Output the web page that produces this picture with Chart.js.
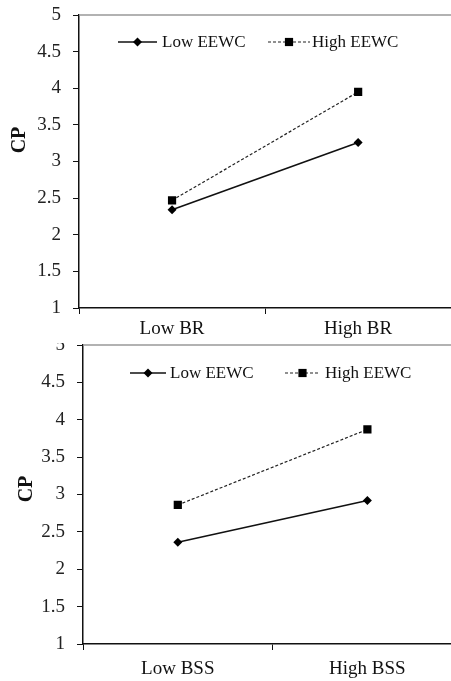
<!DOCTYPE html>
<html>
<head>
<meta charset="utf-8">
<script src="https://cdn.jsdelivr.net/npm/chart.js@4/dist/chart.umd.min.js"></script>
<style>
	html, body { margin: 0; padding: 0; background: #fff; overflow: hidden; }
	#top { position: absolute; left: 0; top: 0; width: 451px; height: 343px; overflow: hidden; }
	#topInner { position: absolute; left: 0; top: 0; width: 457px; height: 343px; }
	#bottom { position: absolute; left: 0; top: 343px; width: 451px; height: 338px; overflow: hidden; }
	#bottomInner { position: absolute; left: 0; top: -10px; width: 468px; height: 348px; }
</style>
</head>
<body>
<div id="top"><div id="topInner"><canvas id="brChart"></canvas></div></div>
<div id="bottom"><div id="bottomInner"><canvas id="bssChart"></canvas></div></div>
<script>
// data
var seriesNames = ["Low EEWC", "High EEWC"];
var brLabels = ["Low BR", "High BR"];
var lowEewcBR = [2.34, 3.26];
var highEewcBR = [2.47, 3.95];
var bssLabels = ["Low BSS", "High BSS"];
var lowEewcBSS = [2.36, 2.92];
var highEewcBSS = [2.86, 3.87];
var yTicks = [1, 5, 0.5]; // min, max, step

Chart.defaults.font.family = "'Liberation Serif', 'Times New Roman', serif";
Chart.defaults.color = "#111";
Chart.defaults.animation = false;

// legend + axis title drawn inside the plot, like the original figure
var insidePlugin = {
	id: "inside",
	beforeDatasetsDraw: function (chart) {
		var ctx = chart.ctx;
		var a = chart.chartArea;
		ctx.save();
		ctx.strokeStyle = "#999";
		ctx.lineWidth = 1.5;
		ctx.beginPath();
		ctx.moveTo(a.left, a.top);
		ctx.lineTo(a.right, a.top);
		ctx.stroke();
		ctx.restore();
	},
	afterDatasetsDraw: function (chart, args, opts) {
		var ctx = chart.ctx;
		ctx.save();
		// axis title
		ctx.translate(opts.titleX, opts.titleY);
		ctx.rotate(-Math.PI / 2);
		ctx.font = "bold 20px 'Liberation Serif'";
		ctx.fillStyle = "#111";
		ctx.textAlign = "center";
		ctx.textBaseline = "middle";
		ctx.fillText("CP", 0, 0);
		ctx.restore();

		// legend
		opts.items.forEach(function (it, i) {
			var ds = chart.data.datasets[i];
			ctx.save();
			ctx.strokeStyle = ds.borderColor;
			ctx.lineWidth = ds.borderWidth;
			ctx.setLineDash(ds.borderDash || []);
			ctx.beginPath();
			ctx.moveTo(it.x1, opts.y);
			ctx.lineTo(it.x2, opts.y);
			ctx.stroke();
			ctx.setLineDash([]);
			ctx.fillStyle = ds.pointBackgroundColor;
			Chart.helpers.drawPoint(ctx, {
				pointStyle: ds.pointStyle,
				radius: ds.pointRadius,
				borderWidth: 0,
				rotation: 0
			}, (it.x1 + it.x2) / 2, opts.y);
			ctx.fillStyle = "#111";
			ctx.font = "17px 'Liberation Serif'";
			ctx.textBaseline = "middle";
			ctx.fillText(ds.label, it.tx, opts.y + 1);
			ctx.restore();
		});
	}
};

function makeDatasets(low, high) {
	return [
		{
			label: seriesNames[0],
			data: low,
			borderColor: "#111",
			borderWidth: 1.6,
			pointStyle: "rectRot",
			pointRadius: 4.5,
			pointBackgroundColor: "#000",
			pointBorderWidth: 0,
		},
		{
			label: seriesNames[1],
			data: high,
			borderColor: "#222",
			borderWidth: 1.2,
			borderDash: [3, 2],
			pointStyle: "rect",
			pointRadius: 5.8,
			pointBackgroundColor: "#000",
			pointBorderWidth: 0,
		},
	];
}

function makeChart(id, labels, low, high, cfg) {
	return new Chart(document.getElementById(id), {
		type: "line",
		data: { labels: labels, datasets: makeDatasets(low, high) },
		plugins: [insidePlugin],
		options: {
			maintainAspectRatio: false,
			responsive: true,
			layout: { padding: { top: cfg.top, left: 0, right: 0, bottom: 0 } },
			plugins: {
				legend: { display: false },
				tooltip: { enabled: false },
				inside: cfg.inside,
			},
			scales: {
				x: {
					offset: true,
					grid: { display: true, drawOnChartArea: false, tickLength: 6, color: "#111", offset: true },
					border: { color: "#111", width: 1.5 },
					ticks: { font: { size: 19 }, padding: cfg.xPad, color: "#111" },
					afterFit: function (scale) {
						scale.height = cfg.xHeight;
						scale.paddingLeft = 0;
						scale.paddingRight = 0;
					},
				},
				y: {
					min: yTicks[0],
					max: yTicks[1],
					ticks: {
						stepSize: yTicks[2],
						font: { size: 19 },
						padding: 12,
						color: "#222",
						callback: function (v) { return String(v); },
					},
					grid: { display: true, drawOnChartArea: false, tickLength: 6, color: "#111" },
					border: { color: "#111", width: 1.5 },
					afterFit: function (scale) {
						scale.width = cfg.yWidth;
						scale.paddingTop = 0;
						scale.paddingBottom = 0;
					},
				},
			},
		},
	});
}

makeChart("brChart", brLabels, lowEewcBR, highEewcBR, {
	top: 15, xHeight: 35, yWidth: 79, xPad: 4,
	inside: {
		titleX: 20, titleY: 140, y: 42,
		items: [{ x1: 118, x2: 157, tx: 162 }, { x1: 268, x2: 310, tx: 312 }],
	},
});

makeChart("bssChart", bssLabels, lowEewcBSS, highEewcBSS, {
	top: 12, xHeight: 37, yWidth: 83, xPad: 8,
	inside: {
		titleX: 27, titleY: 156, y: 40,
		items: [{ x1: 130, x2: 166, tx: 170 }, { x1: 285, x2: 320, tx: 325 }],
	},
});
</script>
</body>
</html>
